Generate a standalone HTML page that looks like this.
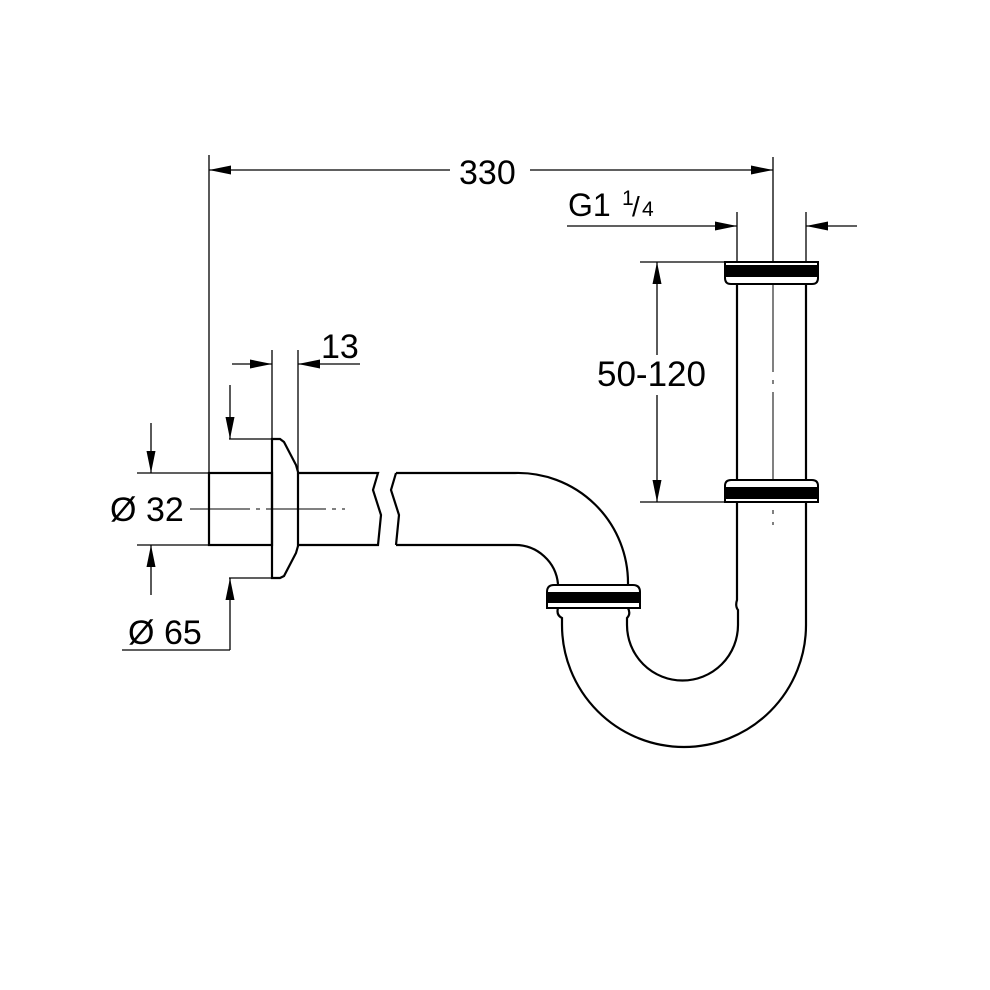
<!DOCTYPE html>
<html><head><style>html,body{margin:0;padding:0;background:#fff}svg{display:block}</style></head>
<body>
<svg width="990" height="990" viewBox="0 0 990 990" xmlns="http://www.w3.org/2000/svg">
<defs>
<marker id="a" markerWidth="22" markerHeight="9" refX="22" refY="4.5" orient="auto" markerUnits="userSpaceOnUse"><path d="M0,0 L22,4.5 L0,9 Z" fill="#000"/></marker>
</defs>
<g fill="none" stroke="#000" stroke-width="1.3">
<line x1="209" y1="155" x2="209" y2="473"/>
<line x1="773" y1="157" x2="773" y2="262"/>
<line x1="737" y1="212" x2="737" y2="262"/>
<line x1="806" y1="212" x2="806" y2="262"/>
<line x1="272" y1="350" x2="272" y2="439"/>
<line x1="298" y1="350" x2="298" y2="473"/>
<line x1="640" y1="262" x2="725" y2="262"/>
<line x1="640" y1="502" x2="725" y2="502"/>
<line x1="137" y1="473" x2="209" y2="473"/>
<line x1="137" y1="545" x2="209" y2="545"/>
<line x1="229" y1="439" x2="272" y2="439"/>
<line x1="229" y1="578" x2="272" y2="578"/>
<line x1="450" y1="170" x2="209" y2="170" marker-end="url(#a)"/>
<line x1="530" y1="170" x2="773" y2="170" marker-end="url(#a)"/>
<line x1="567" y1="226" x2="737" y2="226" marker-end="url(#a)"/>
<line x1="857" y1="226" x2="806" y2="226" marker-end="url(#a)"/>
<line x1="657" y1="355" x2="657" y2="262" marker-end="url(#a)"/>
<line x1="657" y1="395" x2="657" y2="502" marker-end="url(#a)"/>
<line x1="232" y1="364" x2="272" y2="364" marker-end="url(#a)"/>
<line x1="360" y1="364" x2="298" y2="364" marker-end="url(#a)"/>
<line x1="230" y1="385" x2="230" y2="439" marker-end="url(#a)"/>
<line x1="230" y1="650" x2="230" y2="578" marker-end="url(#a)"/>
<line x1="122" y1="650" x2="230" y2="650"/>
<line x1="151" y1="423" x2="151" y2="473" marker-end="url(#a)"/>
<line x1="151" y1="595" x2="151" y2="545" marker-end="url(#a)"/>
<line x1="190" y1="509" x2="345" y2="509" stroke-dasharray="60,6,4,6" stroke-width="1"/>
<line x1="773" y1="262" x2="773" y2="525" stroke-dasharray="110,8,4,8" stroke-width="1"/>
</g>
<g fill="none" stroke="#000" stroke-width="2.2">
<rect x="209" y="473" width="63" height="72"/>
<path d="M272,439 L280,439 L284,442 L296,465 L298,472 L298,546 L296,553 L284,576 L280,578 L272,578 Z"/>
<path d="M298,473 L378,473 L373,490 L381,515 L378,545 L298,545"/>
<path d="M396,473 L391,490 L399,515 L396,545"/>
<path d="M396,473 L515,473 A110,110 0 0 1 628,584"/>
<path d="M396,545 L515,545 A43,43 0 0 1 558,584"/>
<path d="M558,608 Q556,615 562,618 L562,625 A122,122 0 0 0 806,625 L806,502"/>
<path d="M628,608 Q631,614 627,618 L627,625 A55.5,55.5 0 0 0 738,625 L738,610 Q735,606 737,600 L737,502"/>
<line x1="737" y1="284" x2="737" y2="480"/>
<line x1="806" y1="284" x2="806" y2="480"/>
</g>
<g stroke="#000" stroke-width="2">
<path d="M725,262 L818,262 L818,278 Q818,284 812,284 L731,284 Q725,284 725,278 Z" fill="#fff"/>
<rect x="725" y="266" width="93" height="10" fill="#000"/>
<path d="M725,502 L818,502 L818,486 Q818,480 812,480 L731,480 Q725,480 725,486 Z" fill="#fff"/>
<rect x="725" y="488" width="93" height="10" fill="#000"/>
<path d="M547,608 L640,608 L640,592 Q640,585 633,585 L554,585 Q547,585 547,592 Z" fill="#fff"/>
<rect x="547" y="593" width="93" height="9" fill="#000"/>
</g>
<g font-family="Liberation Sans, sans-serif" font-size="34" fill="#000">
<text x="459" y="184">330</text>
<text x="568" y="216" font-size="32">G1</text>
<text x="622" y="205" font-size="21">1</text>
<text x="632" y="216" font-size="28">/</text>
<text x="642" y="216" font-size="21">4</text>
<text x="597" y="386" font-size="35">50-120</text>
<text x="321" y="358">13</text>
<text x="110" y="521">Ø</text>
<text x="146" y="521">32</text>
<text x="128" y="644">Ø</text>
<text x="164" y="644">65</text>
</g>
</svg>
</body></html>
